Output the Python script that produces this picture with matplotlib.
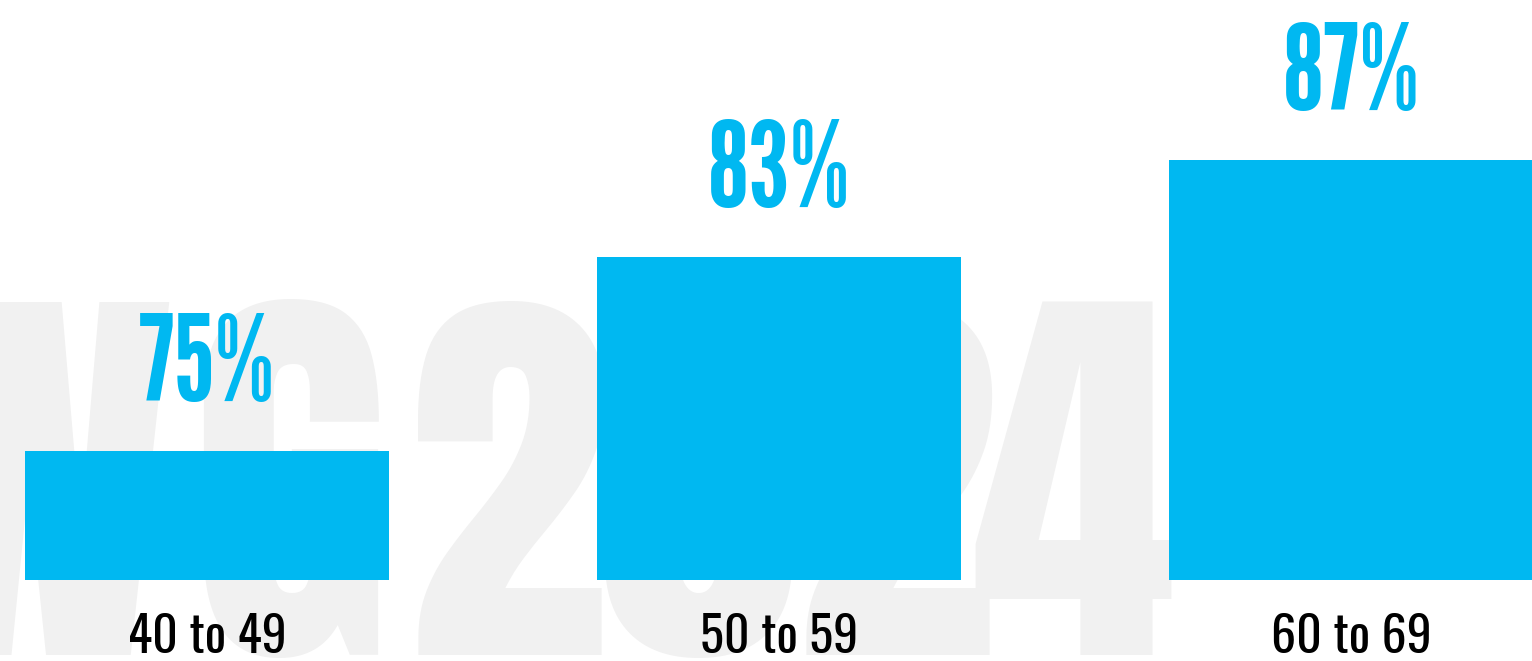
"""
Barras por faixa etária com marca d'água ao fundo.
"""

import matplotlib
matplotlib.use("Agg")
import matplotlib.pyplot as plt

# ============================================================
# DADOS
# ============================================================
faixas = ["40 to 49", "50 to 59", "60 to 69"]
percentagens = [75, 83, 87]

# marca d'água (carácter, centro em px)
marca_chars = ["W", "G", "2", "0", "2", "4"]
marca_x_px = [28, 290, 508, 699, 896, 1073]

AZUL = "#00B8F1"
CINZA = "#F1F1F1"
FONTE_PCT = ["League Gothic", "Oswald", "DejaVu Sans"]
FONTE_LBL = ["Oswald", "DejaVu Sans"]
FONTE_MARCA = ["Anton", "Oswald", "DejaVu Sans"]

W, H = 1532, 661
fig = plt.figure(figsize=(W / 100, H / 100), dpi=100)
fig.patch.set_facecolor("white")

# --- marca d'água ---
for ch, xp in zip(marca_chars, marca_x_px):
    fig.text(xp / W, 1 - 655 / H, ch, ha="center", va="baseline",
             fontsize=296, family=FONTE_MARCA, color=CINZA, zorder=-1)

ax = fig.add_axes([0, 81 / H, 1, 580 / H])
ax.patch.set_visible(False)

x = range(len(faixas))
ax.bar(x, percentagens, width=0.636, color=AZUL, zorder=2)

ax.set_xlim(-207 / 572, (W - 207) / 572)
ax.set_ylim(69.7, 93.6)

for xi, v in zip(x, percentagens):
    ax.annotate(f"{v}%", (xi, v), xytext=(0, 37), textcoords="offset points",
                ha="center", va="baseline", fontsize=86,
                family=FONTE_PCT, color=AZUL)

ax.set_xticks(list(x))
ax.set_xticklabels(faixas, fontsize=36, fontweight="bold", family=FONTE_LBL, color="black")
ax.tick_params(axis="x", length=0, pad=24)
ax.set_yticks([])
for s in ax.spines.values():
    s.set_visible(False)

fig.savefig("out.png", dpi=100)
